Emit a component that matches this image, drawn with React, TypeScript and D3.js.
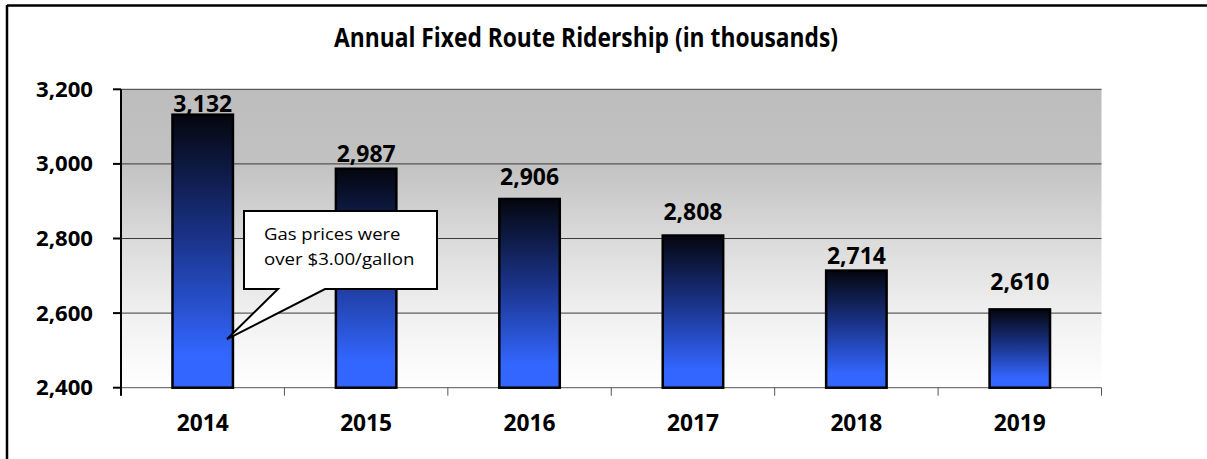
import React from "react";
import * as d3 from "d3";

const years = ["2014", "2015", "2016", "2017", "2018", "2019"];
const ridership = [3132, 2987, 2906, 2808, 2714, 2610];
const yTicks = [2400, 2600, 2800, 3000, 3200];
const labelGaps = [3, 7, 14, 16, 7, 19];
const title = "Annual Fixed Route Ridership (in thousands)";
const calloutLines = ["Gas prices were", "over $3.00/gallon"];

const W = 1207;
const H = 459;
const plot = { left: 121, right: 1101.5, top: 89.3, bottom: 387.7 };
const FONT = "'Open Sans', sans-serif";

export default function App() {
  const x = d3.scaleBand<string>().domain(years).range([plot.left, plot.right]).paddingInner(0.63).paddingOuter(0.315);
  const y = d3.scaleLinear().domain([2400, 3200]).range([plot.bottom, plot.top]);
  const bandStep = x.step();
  const boundaries = d3.range(years.length + 1).map((i) => plot.left + i * bandStep);
  const fmt = d3.format(",");

  // callout geometry
  const cx0 = 244, cx1 = 437, cy0 = 211, cy1 = 289;
  const tipX = (x("2014") as number) + x.bandwidth() * 0.9;
  const tipY = y(2530);
  const callout = `M${cx0},${cy0} H${cx1} V${cy1} H325 L${tipX},${tipY} L278,${cy1} H${cx0} Z`;

  return (
    <svg width={W} height={H} style={{ position: "absolute", left: 0, top: 0, background: "#fff" }} fontFamily={FONT}>
      <defs>
        <linearGradient id="bg" x1="0" y1="0" x2="0" y2="1">
          <stop offset="0" stopColor="#bdbdbd" />
          <stop offset="0.25" stopColor="#c2c2c2" />
          <stop offset="0.5" stopColor="#dadada" />
          <stop offset="0.75" stopColor="#f0f0f0" />
          <stop offset="1" stopColor="#ffffff" />
        </linearGradient>
        <linearGradient id="bar" x1="0" y1="0" x2="0" y2="1">
          <stop offset="0" stopColor="#04060e" />
          <stop offset="0.45" stopColor="#1a3388" />
          <stop offset="0.88" stopColor="#3366ff" />
          <stop offset="1" stopColor="#3366ff" />
        </linearGradient>
      </defs>
      {/* outer frame (top and left visible) */}
      <line x1={7} y1={5.5} x2={W} y2={5.5} stroke="#000" strokeWidth={2.5} />
      <line x1={7} y1={5} x2={7} y2={H} stroke="#000" strokeWidth={2.5} />

      <text x={586} y={46.5} textAnchor="middle" fontWeight="bold" fontSize={26} fill="#000" textLength={504} lengthAdjust="spacingAndGlyphs">
        {title}
      </text>

      {/* plot background */}
      <rect x={plot.left} y={plot.top} width={plot.right - plot.left} height={plot.bottom - plot.top} fill="url(#bg)" />

      {/* gridlines */}
      {yTicks.filter((t) => t !== 2400).map((t) => (
        <line key={t} x1={plot.left} x2={plot.right} y1={y(t)} y2={y(t)} stroke="#3a3a3a" strokeWidth={1} />
      ))}
      {/* x axis */}
      <line x1={plot.left} x2={plot.right} y1={plot.bottom} y2={plot.bottom} stroke="#555" strokeWidth={1} />
      {boundaries.map((bx, i) => (
        <line key={i} x1={bx} x2={bx} y1={plot.bottom} y2={plot.bottom + 8} stroke="#555" strokeWidth={1} />
      ))}

      {/* bars */}
      {ridership.map((v, i) => (
        <rect
          key={years[i]}
          x={x(years[i])}
          y={y(v)}
          width={x.bandwidth()}
          height={plot.bottom - y(v)}
          fill="url(#bar)"
          stroke="#000"
          strokeWidth={2.5}
        />
      ))}

      {/* y axis */}
      <line x1={plot.left} x2={plot.left} y1={plot.top} y2={plot.bottom + 8} stroke="#000" strokeWidth={2} />
      {yTicks.map((t) => (
        <g key={t}>
          <line x1={plot.left - 8} x2={plot.left} y1={y(t)} y2={y(t)} stroke="#000" strokeWidth={2} />
          <text x={93} y={y(t) + 7.5} textAnchor="end" fontWeight="bold" fontSize={21} fill="#000" textLength={57} lengthAdjust="spacingAndGlyphs">
            {fmt(t)}
          </text>
        </g>
      ))}

      {/* x labels */}
      {years.map((yr) => (
        <text key={yr} x={(x(yr) as number) + x.bandwidth() / 2} y={430.5} textAnchor="middle" fontWeight="bold" fontSize={23.5} fill="#000" textLength={52} lengthAdjust="spacingAndGlyphs">
          {yr}
        </text>
      ))}

      {/* value labels */}
      {ridership.map((v, i) => (
        <text key={years[i]} x={(x(years[i]) as number) + x.bandwidth() / 2} y={y(v) - labelGaps[i]} textAnchor="middle" fontWeight="bold" fontSize={22.5} fill="#000" textLength={59} lengthAdjust="spacingAndGlyphs">
          {fmt(v)}
        </text>
      ))}

      {/* callout */}
      <path d={callout} fill="#fff" stroke="#000" strokeWidth={2} strokeLinejoin="miter" />
      {calloutLines.map((l, i) => (
        <text key={i} x={264} y={240 + i * 25} fontSize={16.5} fill="#000" textLength={i === 0 ? 136.5 : 150.5} lengthAdjust="spacingAndGlyphs">
          {l}
        </text>
      ))}
    </svg>
  );
}
